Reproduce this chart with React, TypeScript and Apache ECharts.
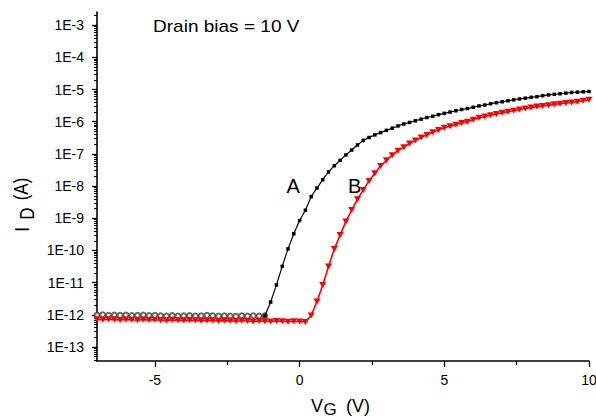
import React, { useEffect, useRef } from 'react';
import * as echarts from 'echarts';

const FONT = '"Liberation Sans", Arial, sans-serif';

// Curve A, off-state points (open circles)
const vgOffA = [-7.0, -6.8, -6.6, -6.4, -6.2, -6.0, -5.8, -5.6, -5.4, -5.2, -5.0, -4.8, -4.6, -4.4, -4.2, -4.0, -3.8, -3.6, -3.4, -3.2, -3.0, -2.8, -2.6, -2.4, -2.2, -2.0, -1.8, -1.6, -1.4, -1.2];
const idOffA = [9.8e-13, 1.0e-12, 9.7e-13, 9.9e-13, 9.6e-13, 9.8e-13, 9.5e-13, 9.7e-13, 9.8e-13, 9.5e-13, 9.6e-13, 9.4e-13, 9.2e-13, 9.5e-13, 9.1e-13, 9.3e-13, 9.5e-13, 9.2e-13, 9.4e-13, 9.6e-13, 9.3e-13, 9.1e-13, 9.4e-13, 9.2e-13, 9.0e-13, 9.3e-13, 9.1e-13, 9.4e-13, 9.2e-13, 9.3e-13];

// Curve A, rising part (small squares)
const vgA = [-1.2, -1.0, -0.8, -0.6, -0.4, -0.2, 0.0, 0.2, 0.4, 0.6, 0.8, 1.0, 1.2, 1.4, 1.6, 1.8, 2.0, 2.2, 2.4, 2.6, 2.8, 3.0, 3.2, 3.4, 3.6, 3.8, 4.0, 4.2, 4.4, 4.6, 4.8, 5.0, 5.2, 5.4, 5.6, 5.8, 6.0, 6.2, 6.4, 6.6, 6.8, 7.0, 7.2, 7.4, 7.6, 7.8, 8.0, 8.2, 8.4, 8.6, 8.8, 9.0, 9.2, 9.4, 9.6, 9.8, 10.0];
const idA = [9.3e-13, 2.5e-12, 8.5e-12, 3.2e-11, 1.12e-10, 3.3e-10, 8.5e-10, 1.78e-9, 4.7e-9, 8.7e-9, 1.58e-8, 2.75e-8, 4.3e-8, 6.3e-8, 9.3e-8, 1.32e-7, 1.9e-7, 2.63e-7, 3.24e-7, 3.9e-7, 4.6e-7, 5.4e-7, 6.3e-7, 7.4e-7, 8.5e-7, 9.5e-7, 1.07e-6, 1.2e-6, 1.35e-6, 1.48e-6, 1.66e-6, 1.82e-6, 2.0e-6, 2.19e-6, 2.4e-6, 2.57e-6, 2.82e-6, 3.1e-6, 3.3e-6, 3.63e-6, 3.9e-6, 4.17e-6, 4.47e-6, 4.8e-6, 5.1e-6, 5.4e-6, 5.75e-6, 6.0e-6, 6.45e-6, 6.8e-6, 7.1e-6, 7.4e-6, 7.75e-6, 8.1e-6, 8.3e-6, 8.5e-6, 8.7e-6];

// Curve B (red down-triangles)
const vgB = [-7.0, -6.8, -6.6, -6.4, -6.2, -6.0, -5.8, -5.6, -5.4, -5.2, -5.0, -4.8, -4.6, -4.4, -4.2, -4.0, -3.8, -3.6, -3.4, -3.2, -3.0, -2.8, -2.6, -2.4, -2.2, -2.0, -1.8, -1.6, -1.4, -1.2, -1.0, -0.8, -0.6, -0.4, -0.2, 0.0, 0.2, 0.4, 0.6, 0.8, 1.0, 1.2, 1.4, 1.6, 1.8, 2.0, 2.2, 2.4, 2.6, 2.8, 3.0, 3.2, 3.4, 3.6, 3.8, 4.0, 4.2, 4.4, 4.6, 4.8, 5.0, 5.2, 5.4, 5.6, 5.8, 6.0, 6.2, 6.4, 6.6, 6.8, 7.0, 7.2, 7.4, 7.6, 7.8, 8.0, 8.2, 8.4, 8.6, 8.8, 9.0, 9.2, 9.4, 9.6, 9.8, 10.0];
const idB = [7.2e-13, 7.0e-13, 7.3e-13, 7.1e-13, 6.9e-13, 7.2e-13, 7.0e-13, 6.8e-13, 7.1e-13, 6.9e-13, 7.0e-13, 6.8e-13, 6.7e-13, 6.9e-13, 6.8e-13, 6.6e-13, 6.8e-13, 6.7e-13, 6.5e-13, 6.7e-13, 6.6e-13, 6.4e-13, 6.6e-13, 6.5e-13, 6.3e-13, 6.5e-13, 6.4e-13, 6.2e-13, 6.4e-13, 6.3e-13, 6.2e-13, 6.4e-13, 6.3e-13, 6.1e-13, 6.3e-13, 6.2e-13, 6.0e-13, 9.5e-13, 2.6e-12, 8.5e-12, 3.2e-11, 1.1e-10, 3.0e-10, 8.0e-10, 1.8e-9, 3.9e-9, 7.6e-9, 1.45e-8, 2.5e-8, 4.2e-8, 6.3e-8, 9.1e-8, 1.26e-7, 1.62e-7, 2.1e-7, 2.63e-7, 3.24e-7, 3.9e-7, 4.7e-7, 5.5e-7, 6.5e-7, 7.2e-7, 8.1e-7, 9.1e-7, 1.0e-6, 1.15e-6, 1.32e-6, 1.45e-6, 1.58e-6, 1.74e-6, 1.9e-6, 2.04e-6, 2.19e-6, 2.4e-6, 2.57e-6, 2.75e-6, 2.95e-6, 3.1e-6, 3.24e-6, 3.47e-6, 3.63e-6, 3.8e-6, 3.98e-6, 4.17e-6, 4.47e-6, 4.8e-6];

// Axis ticks
const yMajorTicks = [1e-13, 1e-12, 1e-11, 1e-10, 1e-9, 1e-8, 1e-7, 1e-6, 1e-5, 1e-4, 1e-3];
const yMinorDecades = [1e-14, 1e-13, 1e-12, 1e-11, 1e-10, 1e-9, 1e-8, 1e-7, 1e-6, 1e-5, 1e-4, 1e-3];
const yMinorMantissas = [2, 3, 4, 5, 6, 7, 8, 9];
const xMajorTicks = [-5, 0, 5, 10];
const xMinorTicks = [-2.5, 2.5, 7.5];

const X_MIN = -7;
const X_MAX = 10;
const Y_MIN = 3.67e-14;
const Y_MAX = 2.57e-3;

const zip = (xs: number[], ys: number[]) => xs.map((x, i) => [x, ys[i]]);

export default function App() {
  const ref = useRef<HTMLDivElement>(null);

  useEffect(() => {
    if (!ref.current) return;
    const chart = echarts.init(ref.current, null, { renderer: 'svg' });
    const yMinorTicks: number[] = [];
    yMinorDecades.forEach((d) => yMinorMantissas.forEach((m) => yMinorTicks.push(m * d)));

    const axisCol = '#000';
    const option: any = {
      animation: false,
      backgroundColor: '#ffffff',
      grid: { left: 97, right: 7, top: 12, bottom: 58, containLabel: false, outerBoundsMode: 'none' },
      xAxis: [
        {
          type: 'value', min: X_MIN, max: X_MAX, position: 'bottom',
          axisLine: { show: true, onZero: false, lineStyle: { color: axisCol, width: 1.6 } },
          axisTick: { show: true, customValues: xMajorTicks, length: 6, lineStyle: { color: axisCol, width: 1.3 } },
          axisLabel: { show: true, customValues: xMajorTicks, margin: 12, color: '#000', fontSize: 14, fontFamily: FONT },
          splitLine: { show: false },
        },
        {
          type: 'value', min: X_MIN, max: X_MAX, position: 'bottom',
          axisLine: { show: false, onZero: false },
          axisTick: { show: true, customValues: xMinorTicks, length: 4, lineStyle: { color: axisCol, width: 1.2 } },
          axisLabel: { show: false },
          splitLine: { show: false },
        },
      ],
      yAxis: [
        {
          type: 'log', min: Y_MIN, max: Y_MAX, position: 'left',
          axisLine: { show: true, onZero: false, lineStyle: { color: axisCol, width: 1.6 } },
          axisTick: { show: true, customValues: yMajorTicks, length: 5, lineStyle: { color: axisCol, width: 1.3 } },
          axisLabel: {
            show: true, customValues: yMajorTicks, margin: 13, color: '#000', fontSize: 14, fontFamily: FONT,
            formatter: (v: number) => '1E' + Math.round(Math.log10(v)),
          },
          splitLine: { show: false },
        },
        {
          type: 'log', min: Y_MIN, max: Y_MAX, position: 'left',
          axisLine: { show: false, onZero: false },
          axisTick: { show: true, customValues: yMinorTicks, length: 3, lineStyle: { color: axisCol, width: 1 } },
          axisLabel: { show: false },
          splitLine: { show: false },
        },
      ],
      series: [
        {
          name: 'A off', type: 'scatter', xAxisIndex: 0, yAxisIndex: 0,
          data: zip(vgOffA, idOffA),
          symbol: 'emptyCircle', symbolSize: 5,
          itemStyle: { color: '#444', borderWidth: 1 },
          silent: true,
        },
        {
          name: 'A', type: 'line', xAxisIndex: 0, yAxisIndex: 0,
          data: zip(vgA, idA),
          symbol: 'rect', symbolSize: 3.5, showSymbol: true,
          itemStyle: { color: '#000' },
          lineStyle: { color: '#000', width: 1.2 },
          silent: true,
        },
        {
          name: 'B', type: 'line', xAxisIndex: 0, yAxisIndex: 0,
          data: zip(vgB, idB),
          symbol: 'triangle', symbolRotate: 180, symbolSize: [7, 6], showSymbol: true,
          itemStyle: { color: '#ff0000' },
          lineStyle: { color: '#ff0000', width: 1.6 },
          silent: true,
        },
      ],
      graphic: [
        {
          type: 'text', x: 153, y: 26, scaleX: 1.12, silent: true,
          style: { text: 'Drain bias = 10 V', fontSize: 17, fontFamily: FONT, fill: '#000', align: 'left', verticalAlign: 'middle', textAlign: 'left', textVerticalAlign: 'middle' },
        },
        {
          type: 'text', x: 286.5, y: 185.5, silent: true,
          style: { text: 'A', fontSize: 20, fontFamily: FONT, fill: '#000', align: 'left', verticalAlign: 'middle', textAlign: 'left', textVerticalAlign: 'middle' },
        },
        {
          type: 'text', x: 348, y: 185.5, silent: true,
          style: { text: 'B', fontSize: 20, fontFamily: FONT, fill: '#000', align: 'left', verticalAlign: 'middle', textAlign: 'left', textVerticalAlign: 'middle' },
        },
        // x-axis title V_G (V)
        {
          type: 'text', x: 311, y: 406, silent: true,
          style: { text: 'V', fontSize: 18, fontFamily: FONT, fill: '#000', align: 'left', verticalAlign: 'middle', textAlign: 'left', textVerticalAlign: 'middle' },
        },
        {
          type: 'text', x: 323.5, y: 409.5, silent: true,
          style: { text: 'G', fontSize: 17, fontFamily: FONT, fill: '#000', align: 'left', verticalAlign: 'middle', textAlign: 'left', textVerticalAlign: 'middle' },
        },
        {
          type: 'text', x: 346, y: 405.5, silent: true,
          style: { text: '(V)', fontSize: 18, fontFamily: FONT, fill: '#000', align: 'left', verticalAlign: 'middle', textAlign: 'left', textVerticalAlign: 'middle' },
        },
        // y-axis title I_D (A), rotated
        {
          type: 'text', x: 21.5, y: 229.5, rotation: Math.PI / 2, scaleY: 1.18, silent: true,
          style: { text: 'I', fontSize: 17, fontFamily: FONT, fill: '#000', align: 'center', verticalAlign: 'middle', textAlign: 'center', textVerticalAlign: 'middle' },
        },
        {
          type: 'text', x: 27, y: 213.5, rotation: Math.PI / 2, scaleY: 1.18, silent: true,
          style: { text: 'D', fontSize: 17, fontFamily: FONT, fill: '#000', align: 'center', verticalAlign: 'middle', textAlign: 'center', textVerticalAlign: 'middle' },
        },
        {
          type: 'text', x: 21, y: 189, rotation: Math.PI / 2, scaleY: 1.18, silent: true,
          style: { text: '(A)', fontSize: 17, fontFamily: FONT, fill: '#000', align: 'center', verticalAlign: 'middle', textAlign: 'center', textVerticalAlign: 'middle' },
        },
      ],
    };
    chart.setOption(option);
    return () => chart.dispose();
  }, []);

  return (
    <div
      ref={ref}
      style={{ position: 'fixed', left: 0, top: 0, width: 596, height: 419, background: '#fff' }}
    />
  );
}
